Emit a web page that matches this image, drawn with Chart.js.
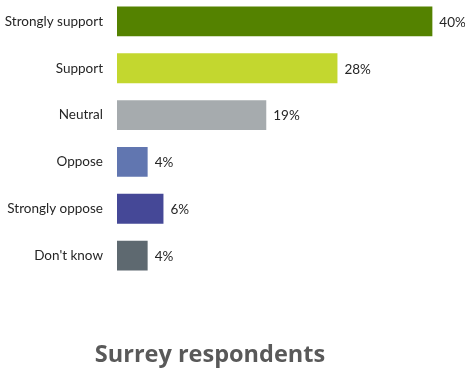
<!DOCTYPE html>
<html>
<head>
<meta charset="utf-8">
<script src="https://cdn.jsdelivr.net/npm/chart.js@4/dist/chart.umd.min.js"></script>
<style>
  html, body { margin: 0; padding: 0; background: #fff; overflow: hidden; }
  #wrap { position: absolute; left: 0; top: -2px; width: 465px; height: 374px; }
</style>
</head>
<body>
<div id="wrap"><canvas id="chart"></canvas></div>
<script>
// Svarskategorier och andelar (%)
const categories = ['Strongly support', 'Support', 'Neutral', 'Oppose', 'Strongly oppose', "Don't know"];
const shares = [40, 28, 19, 4, 6, 4];
const barColors = ['#548200', '#c3d72f', '#a6abae', '#6176b0', '#454897', '#5e6970'];
const chartTitle = 'Surrey respondents';

const FONT = 'Lato, "Open Sans", sans-serif';

// Skriver procentsatsen till höger om varje stapel
const valueLabels = {
    id: 'valueLabels',
    afterDatasetsDraw(chart) {
        const ctx = chart.ctx;
        const meta = chart.getDatasetMeta(0);
        ctx.save();
        ctx.font = '13.5px ' + FONT;
        ctx.fillStyle = '#262626';
        ctx.textAlign = 'left';
        ctx.textBaseline = 'middle';
        meta.data.forEach((bar, i) => {
            ctx.fillText(shares[i] + '%', bar.x + 6, bar.y + 1);
        });
        ctx.restore();
    }
};

// Rubrik under diagrammet
const bottomTitle = {
    id: 'bottomTitle',
    afterDraw(chart) {
        const ctx = chart.ctx;
        ctx.save();
        ctx.font = 'bold 23.5px "Open Sans", sans-serif';
        ctx.fillStyle = '#595959';
        ctx.textAlign = 'center';
        ctx.textBaseline = 'alphabetic';
        ctx.fillText(chartTitle, 210, 364);
        ctx.restore();
    }
};

new Chart(document.getElementById('chart'), {
    type: 'bar',
    data: {
        labels: categories,
        datasets: [{
            data: shares,
            backgroundColor: barColors,
            borderColor: 'rgba(255,255,255,0.5)',
            borderWidth: 1,
            barPercentage: 0.68,
            categoryPercentage: 1
        }]
    },
    options: {
        indexAxis: 'y',
        responsive: true,
        maintainAspectRatio: false,
        animation: false,
        layout: { padding: { top: 0, right: 0, bottom: 93, left: 0 } },
        plugins: {
            legend: { display: false },
            tooltip: { enabled: false }
        },
        scales: {
            x: { display: false, min: 0, max: 44 },
            y: {
                afterFit(scale) {
                    // fast bredd för etiketterna, ingen extra luft upptill/nedtill
                    scale.width = 117;
                    scale.paddingTop = 0;
                    scale.paddingBottom = 0;
                },
                grid: { display: false, drawTicks: false },
                border: { display: false },
                ticks: {
                    padding: 14,
                    color: '#262626',
                    font: { family: FONT, size: 13.5 }
                }
            }
        }
    },
    plugins: [valueLabels, bottomTitle]
});
</script>
</body>
</html>
